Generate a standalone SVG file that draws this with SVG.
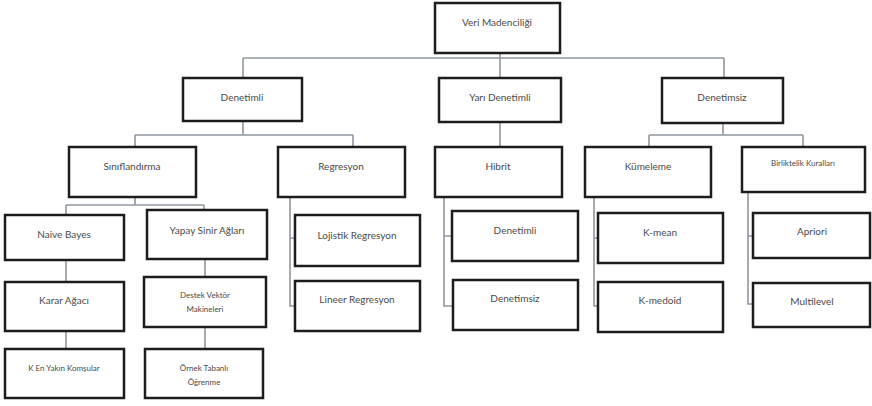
<svg xmlns="http://www.w3.org/2000/svg" width="872" height="406" viewBox="0 0 872 406">
  <style>
    .box { fill: #ffffff; stroke: #1c1c1c; stroke-width: 2.5; }
    .lbl { font-family: Lato, "Open Sans", sans-serif; font-size: 10px; fill: #4a4a4a; text-anchor: middle; }
    .sm { font-size: 8px; }
    .link { fill: none; stroke: #8f979e; stroke-width: 1.6; }
  </style>
  <rect width="872" height="406" fill="#ffffff"/>

  <g id="connectors">
    <path class="link" d="M500,53 V78 M243,58 H724 M243,58 V78 M724,58 V78"/>
    <path class="link" d="M243,121 V135 M135,135 H353 M135,135 V147 M353,135 V147"/>
    <path class="link" d="M500,122 V147"/>
    <path class="link" d="M723,123 V135 M649,135 H803 M649,135 V147 M803,135 V147"/>
    <path class="link" d="M135,197 V205 M66,205 H204 M66,205 V215 M204,205 V210"/>
    <path class="link" d="M66,260 V282 M66,331 V349 M205,259 V277 M205,327 V349"/>
    <path class="link" d="M290,197 V306 H295 M290,238 H295"/>
    <path class="link" d="M444,197 V306 H453 M444,236 H452"/>
    <path class="link" d="M594,197 V306 H598 M594,238 H598"/>
    <path class="link" d="M748,192 V304 H753 M748,236 H753"/>
  </g>

  <g id="veri-madenciligi">
    <rect class="box" x="435" y="3" width="125" height="50"/>
    <text class="lbl" x="497" y="25.5">Veri Madenciliği</text>
  </g>
  <g id="denetimli">
    <rect class="box" x="183" y="78" width="119" height="43"/>
    <text class="lbl" x="242" y="100.5">Denetimli</text>
  </g>
  <g id="yari-denetimli">
    <rect class="box" x="439" y="78" width="122" height="44"/>
    <text class="lbl" x="500" y="100.5">Yarı Denetimli</text>
  </g>
  <g id="denetimsiz">
    <rect class="box" x="662" y="78" width="121" height="45"/>
    <text class="lbl" x="722" y="100.5">Denetimsiz</text>
  </g>

  <g id="siniflandirma">
    <rect class="box" x="69" y="147" width="127" height="50"/>
    <text class="lbl" x="132" y="169.5">Sınıflandırma</text>
  </g>
  <g id="regresyon">
    <rect class="box" x="278" y="147" width="127" height="50"/>
    <text class="lbl" x="341" y="169.5">Regresyon</text>
  </g>
  <g id="hibrit">
    <rect class="box" x="435" y="147" width="127" height="50"/>
    <text class="lbl" x="498" y="169.5">Hibrit</text>
  </g>
  <g id="kumeleme">
    <rect class="box" x="585" y="147" width="126" height="50"/>
    <text class="lbl" x="648" y="169.5">Kümeleme</text>
  </g>
  <g id="birliktelik-kurallari">
    <rect class="box" x="742" y="147" width="123" height="45"/>
    <text class="lbl sm" x="803" y="166">Birliktelik Kuralları</text>
  </g>

  <g id="naive-bayes">
    <rect class="box" x="5" y="215" width="119" height="45"/>
    <text class="lbl" x="64" y="237.5">Naive Bayes</text>
  </g>
  <g id="yapay-sinir-aglari">
    <rect class="box" x="147" y="210" width="120" height="49"/>
    <text class="lbl" x="207" y="233.5">Yapay Sinir Ağları</text>
  </g>
  <g id="karar-agaci">
    <rect class="box" x="5" y="282" width="119" height="49"/>
    <text class="lbl" x="64" y="303.5">Karar Ağacı</text>
  </g>
  <g id="destek-vektor-makineleri">
    <rect class="box" x="144" y="277" width="122" height="50"/>
    <text class="lbl sm" x="205" y="298">Destek Vektör</text>
    <text class="lbl sm" x="205" y="312">Makineleri</text>
  </g>
  <g id="k-en-yakin-komsular">
    <rect class="box" x="5" y="349" width="119" height="49"/>
    <text class="lbl sm" x="64" y="371">K En Yakın Komşular</text>
  </g>
  <g id="ornek-tabanli-ogrenme">
    <rect class="box" x="145" y="349" width="118" height="49"/>
    <text class="lbl sm" x="204" y="371">Örnek Tabanlı</text>
    <text class="lbl sm" x="204" y="385">Öğrenme</text>
  </g>

  <g id="lojistik-regresyon">
    <rect class="box" x="295" y="215" width="125" height="51"/>
    <text class="lbl" x="357" y="238.5">Lojistik Regresyon</text>
  </g>
  <g id="lineer-regresyon">
    <rect class="box" x="295" y="281" width="125" height="50"/>
    <text class="lbl" x="357" y="302.5">Lineer Regresyon</text>
  </g>

  <g id="hibrit-denetimli">
    <rect class="box" x="452" y="211" width="126" height="50"/>
    <text class="lbl" x="515" y="233.5">Denetimli</text>
  </g>
  <g id="hibrit-denetimsiz">
    <rect class="box" x="453" y="280" width="125" height="50"/>
    <text class="lbl" x="515" y="301.5">Denetimsiz</text>
  </g>

  <g id="k-mean">
    <rect class="box" x="598" y="213" width="125" height="50"/>
    <text class="lbl" x="660" y="235.5">K-mean</text>
  </g>
  <g id="k-medoid">
    <rect class="box" x="598" y="282" width="125" height="50"/>
    <text class="lbl" x="660" y="303.5">K-medoid</text>
  </g>

  <g id="apriori">
    <rect class="box" x="753" y="213" width="117" height="45"/>
    <text class="lbl" x="812" y="234.5">Apriori</text>
  </g>
  <g id="multilevel">
    <rect class="box" x="753" y="283" width="117" height="44"/>
    <text class="lbl" x="812" y="304.5">Multilevel</text>
  </g>
</svg>
